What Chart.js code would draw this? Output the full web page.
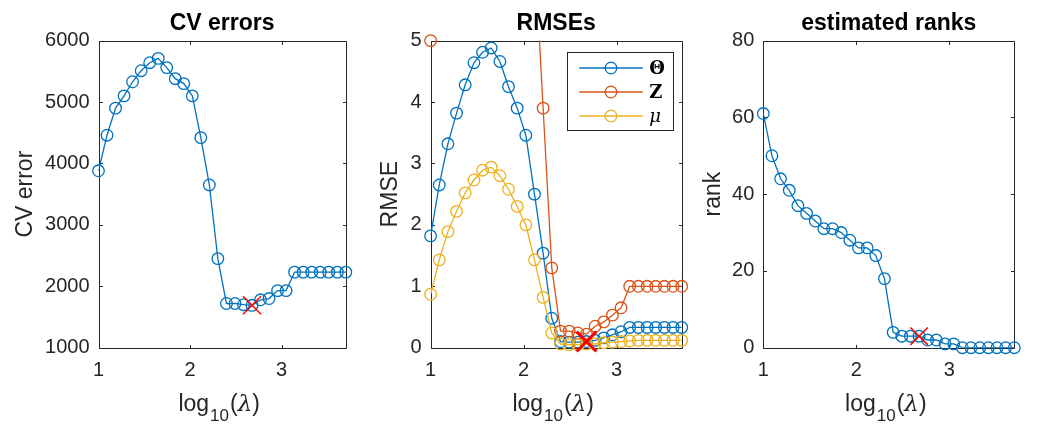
<!DOCTYPE html>
<html>
<head>
<meta charset="utf-8">
<script src="https://cdn.jsdelivr.net/npm/chart.js@4.4.1/dist/chart.umd.min.js"></script>
<style>
  body { margin: 0; background: #fff; }
  .panel { position: absolute; top: 0; }
</style>
</head>
<body>
<canvas id="cv" class="panel" style="left:0px" width="360" height="438"></canvas>
<canvas id="rmse" class="panel" style="left:360px" width="340" height="438"></canvas>
<canvas id="rank" class="panel" style="left:700px" width="340" height="438"></canvas>
<script>
// log10(lambda) grid, 30 values
const logLambda = [1.000, 1.093, 1.186, 1.279, 1.372, 1.466, 1.559, 1.652, 1.745, 1.838,
                   1.931, 2.024, 2.117, 2.210, 2.303, 2.397, 2.490, 2.583, 2.676, 2.769,
                   2.862, 2.955, 3.048, 3.141, 3.234, 3.328, 3.421, 3.514, 3.607, 3.700];

const cvErrors = [3880, 4460, 4900, 5100, 5330, 5510, 5640, 5710, 5560, 5380,
                  5300, 5100, 4420, 3650, 2450, 1720, 1720, 1700, 1690, 1780,
                  1800, 1930, 1930, 2230, 2230, 2230, 2230, 2230, 2230, 2230];

const rmseTheta = [1.82, 2.65, 3.32, 3.82, 4.28, 4.64, 4.81, 4.88, 4.66, 4.25,
                   3.90, 3.46, 2.50, 1.54, 0.48, 0.10, 0.09, 0.09, 0.10, 0.12,
                   0.16, 0.21, 0.26, 0.33, 0.33, 0.33, 0.33, 0.33, 0.33, 0.33];
// Z is far above the axis between the first point and ~2.2
const rmseZ = [5.00, 7.5, 9.8, 11.6, 13.0, 14.0, 14.5, 14.6, 14.0, 12.8,
               11.0, 8.7, 6.5, 3.90, 1.30, 0.27, 0.27, 0.24, 0.22, 0.35,
               0.42, 0.53, 0.65, 1.00, 1.00, 1.00, 1.00, 1.00, 1.00, 1.00];
const rmseMu = [0.87, 1.43, 1.89, 2.22, 2.52, 2.73, 2.89, 2.94, 2.80, 2.58,
                2.30, 2.00, 1.43, 0.82, 0.24, 0.06, 0.05, 0.05, 0.06, 0.06,
                0.08, 0.09, 0.10, 0.11, 0.12, 0.12, 0.12, 0.12, 0.12, 0.12];

const estRanks = [61, 50, 44, 41, 37, 35, 33, 31, 31, 30,
                  28, 26, 26, 24, 18, 4, 3, 3, 3, 2,
                  2, 1, 1, 0, 0, 0, 0, 0, 0, 0];

const bestIdx = 18; // selected lambda, marked with a red cross

const xTicks = [1, 2, 3];
const cvTicks = [1000, 2000, 3000, 4000, 5000, 6000];
const rmseTicks = [0, 1, 2, 3, 4, 5];
const rankTicks = [0, 20, 40, 60, 80];

const legendLabels = ['Θ', 'Z', 'μ'];

const BLUE = '#0072bd', ORANGE = '#d95319', YELLOW = '#edb120', RED = '#ff0000';
const AXIS = '#262626';
const SANS = '"Liberation Sans", Arial, Helvetica, sans-serif';
const SERIF = '"DejaVu Serif", "Liberation Serif", serif';

const toPoints = (ys) => logLambda.map((x, i) => ({ x, y: ys[i] }));

// line part is clipped to the axes, markers are not (like matlab)
function series(ys, color, yMax, order) {
  return [
    {
      data: toPoints(ys), borderColor: color, borderWidth: 1.3,
      pointRadius: 0, tension: 0, clip: 0, order: order
    },
    {
      data: toPoints(ys.map(v => (v <= yMax ? v : null))), showLine: false,
      borderColor: color, backgroundColor: 'transparent',
      pointRadius: 5.8, pointBorderWidth: 1.3, pointBackgroundColor: 'transparent',
      pointBorderColor: color, clip: false, order: order
    }
  ];
}

function bestMark(ys, radius, width) {
  return {
    data: [{ x: logLambda[bestIdx], y: ys[bestIdx] }], showLine: false,
    pointStyle: 'crossRot', pointRadius: radius, pointBorderWidth: width,
    pointBorderColor: RED, borderColor: RED, clip: false, order: 0
  };
}

// box with inward ticks + tex style x label
const matlabAxes = {
  id: 'matlabAxes',
  beforeDatasetsDraw(chart) {
    const { ctx, chartArea: a, scales: { x, y } } = chart;
    const L = Math.round(a.left) + 0.5, R = Math.round(a.right) + 0.5;
    const T = Math.round(a.top) + 0.5, B = Math.round(a.bottom) + 0.5;
    const tl = 3.5;
    ctx.save();
    ctx.strokeStyle = AXIS;
    ctx.lineWidth = 1;
    ctx.beginPath();
    ctx.rect(L, T, R - L, B - T);
    x.ticks.forEach(t => {
      const px = Math.round(x.getPixelForValue(t.value)) + 0.5;
      ctx.moveTo(px, B); ctx.lineTo(px, B - tl);
      ctx.moveTo(px, T); ctx.lineTo(px, T + tl);
    });
    y.ticks.forEach(t => {
      const py = Math.round(y.getPixelForValue(t.value)) + 0.5;
      ctx.moveTo(L, py); ctx.lineTo(L + tl, py);
      ctx.moveTo(R, py); ctx.lineTo(R - tl, py);
    });
    ctx.stroke();
    ctx.restore();
  },
  afterDraw(chart) {
    const { ctx, chartArea: a } = chart;
    const base = 411;
    const mainFont = `23px ${SANS}`, subFont = `17px ${SANS}`, lamFont = `italic 23px ${SERIF}`;
    ctx.save();
    ctx.fillStyle = AXIS;
    ctx.textBaseline = 'alphabetic';
    ctx.textAlign = 'left';
    ctx.font = mainFont;
    const wLog = ctx.measureText('log').width, wPar = ctx.measureText('(').width;
    ctx.font = subFont;
    const wSub = ctx.measureText('10').width;
    ctx.font = lamFont;
    const wLam = ctx.measureText('λ').width;
    const total = wLog + wSub + 2 * wPar + wLam + 2;
    let px = (a.left + a.right) / 2 - 3 - total / 2;
    ctx.font = mainFont; ctx.fillText('log', px, base); px += wLog + 1;
    ctx.font = subFont; ctx.fillText('10', px, base + 10); px += wSub + 1;
    ctx.font = mainFont; ctx.fillText('(', px, base); px += wPar;
    ctx.font = lamFont; ctx.fillText('λ', px, base); px += wLam;
    ctx.font = mainFont; ctx.fillText(')', px, base);
    ctx.restore();
  }
};

// legend for the RMSE panel
const rmseLegend = {
  id: 'rmseLegend',
  afterDraw(chart) {
    const { ctx } = chart;
    const box = { left: 207.5, top: 52.5, right: 313.5, bottom: 130.5 };
    const colors = [BLUE, ORANGE, YELLOW];
    const fonts = [`bold 18px ${SERIF}`, `bold 18px ${SERIF}`, `italic 18px ${SERIF}`];
    ctx.save();
    ctx.fillStyle = '#fff';
    ctx.fillRect(box.left, box.top, box.right - box.left, box.bottom - box.top);
    ctx.strokeStyle = AXIS;
    ctx.lineWidth = 1;
    ctx.strokeRect(box.left, box.top, box.right - box.left, box.bottom - box.top);
    legendLabels.forEach((lab, i) => {
      const yy = 68 + i * 24;
      ctx.strokeStyle = colors[i];
      ctx.lineWidth = 1.3;
      ctx.beginPath();
      ctx.moveTo(219.3, yy); ctx.lineTo(282.7, yy);
      ctx.stroke();
      ctx.beginPath();
      ctx.arc(251, yy, 5.8, 0, Math.PI * 2);
      ctx.stroke();
      ctx.fillStyle = '#000';
      ctx.font = fonts[i];
      ctx.textBaseline = 'middle';
      ctx.fillText(lab, 289.3, yy + 1);
    });
    ctx.restore();
  }
};

function makePanel(id, opts) {
  return new Chart(document.getElementById(id), {
    type: 'line',
    data: { datasets: opts.datasets },
    options: {
      responsive: false,
      animation: false,
      devicePixelRatio: 1,
      layout: { padding: { left: 0, right: opts.padRight, top: 0, bottom: 0 } },
      plugins: {
        legend: { display: false },
        tooltip: { enabled: false },
        title: {
          display: true, text: opts.title, color: '#000', fullSize: false,
          font: { family: SANS, size: 23, weight: 'bold' },
          padding: { top: 10, bottom: 3 }
        }
      },
      scales: {
        x: {
          type: 'linear', min: 1, max: 3.7,
          grid: { display: false, drawTicks: false },
          border: { display: false },
          ticks: { color: AXIS, font: { family: SANS, size: 20 }, padding: 11, callback: v => String(v) },
          afterBuildTicks: s => { s.ticks = xTicks.map(v => ({ value: v })); },
          afterFit: s => { s.height = 90.3; }
        },
        y: {
          min: opts.yTicks[0], max: opts.yTicks[opts.yTicks.length - 1],
          grid: { display: false, drawTicks: false },
          border: { display: false },
          ticks: { color: AXIS, font: { family: SANS, size: 20 }, padding: 9, callback: v => String(v) },
          afterBuildTicks: s => { s.ticks = opts.yTicks.map(v => ({ value: v })); },
          afterFit: s => { s.width = opts.yWidth; },
          title: {
            display: true, text: opts.yLabel, color: AXIS,
            font: { family: SANS, size: 23 },
            padding: { top: opts.yTitlePad, bottom: 0 }
          }
        }
      }
    },
    plugins: opts.plugins
  });
}

makePanel('cv', {
  title: 'CV errors', yLabel: 'CV error', yTicks: cvTicks,
  yWidth: 98.5, padRight: 11, yTitlePad: 11.5,
  datasets: [bestMark(cvErrors, 12.7, 1.5), ...series(cvErrors, BLUE, 6000, 1)],
  plugins: [matlabAxes]
});

makePanel('rmse', {
  title: 'RMSEs', yLabel: 'RMSE', yTicks: rmseTicks,
  yWidth: 70.6, padRight: 18.3, yTitlePad: 16.5,
  datasets: [
    bestMark(rmseTheta, 14, 3),
    ...series(rmseMu, YELLOW, 5, 1),
    ...series(rmseZ, ORANGE, 5, 2),
    ...series(rmseTheta, BLUE, 5, 3)
  ],
  plugins: [matlabAxes, rmseLegend]
});

makePanel('rank', {
  title: 'estimated ranks', yLabel: 'rank', yTicks: rankTicks,
  yWidth: 63.3, padRight: 25.7, yTitlePad: 0,
  datasets: [bestMark(estRanks, 12.3, 1.5), ...series(estRanks, BLUE, 80, 1)],
  plugins: [matlabAxes]
});
</script>
</body>
</html>
